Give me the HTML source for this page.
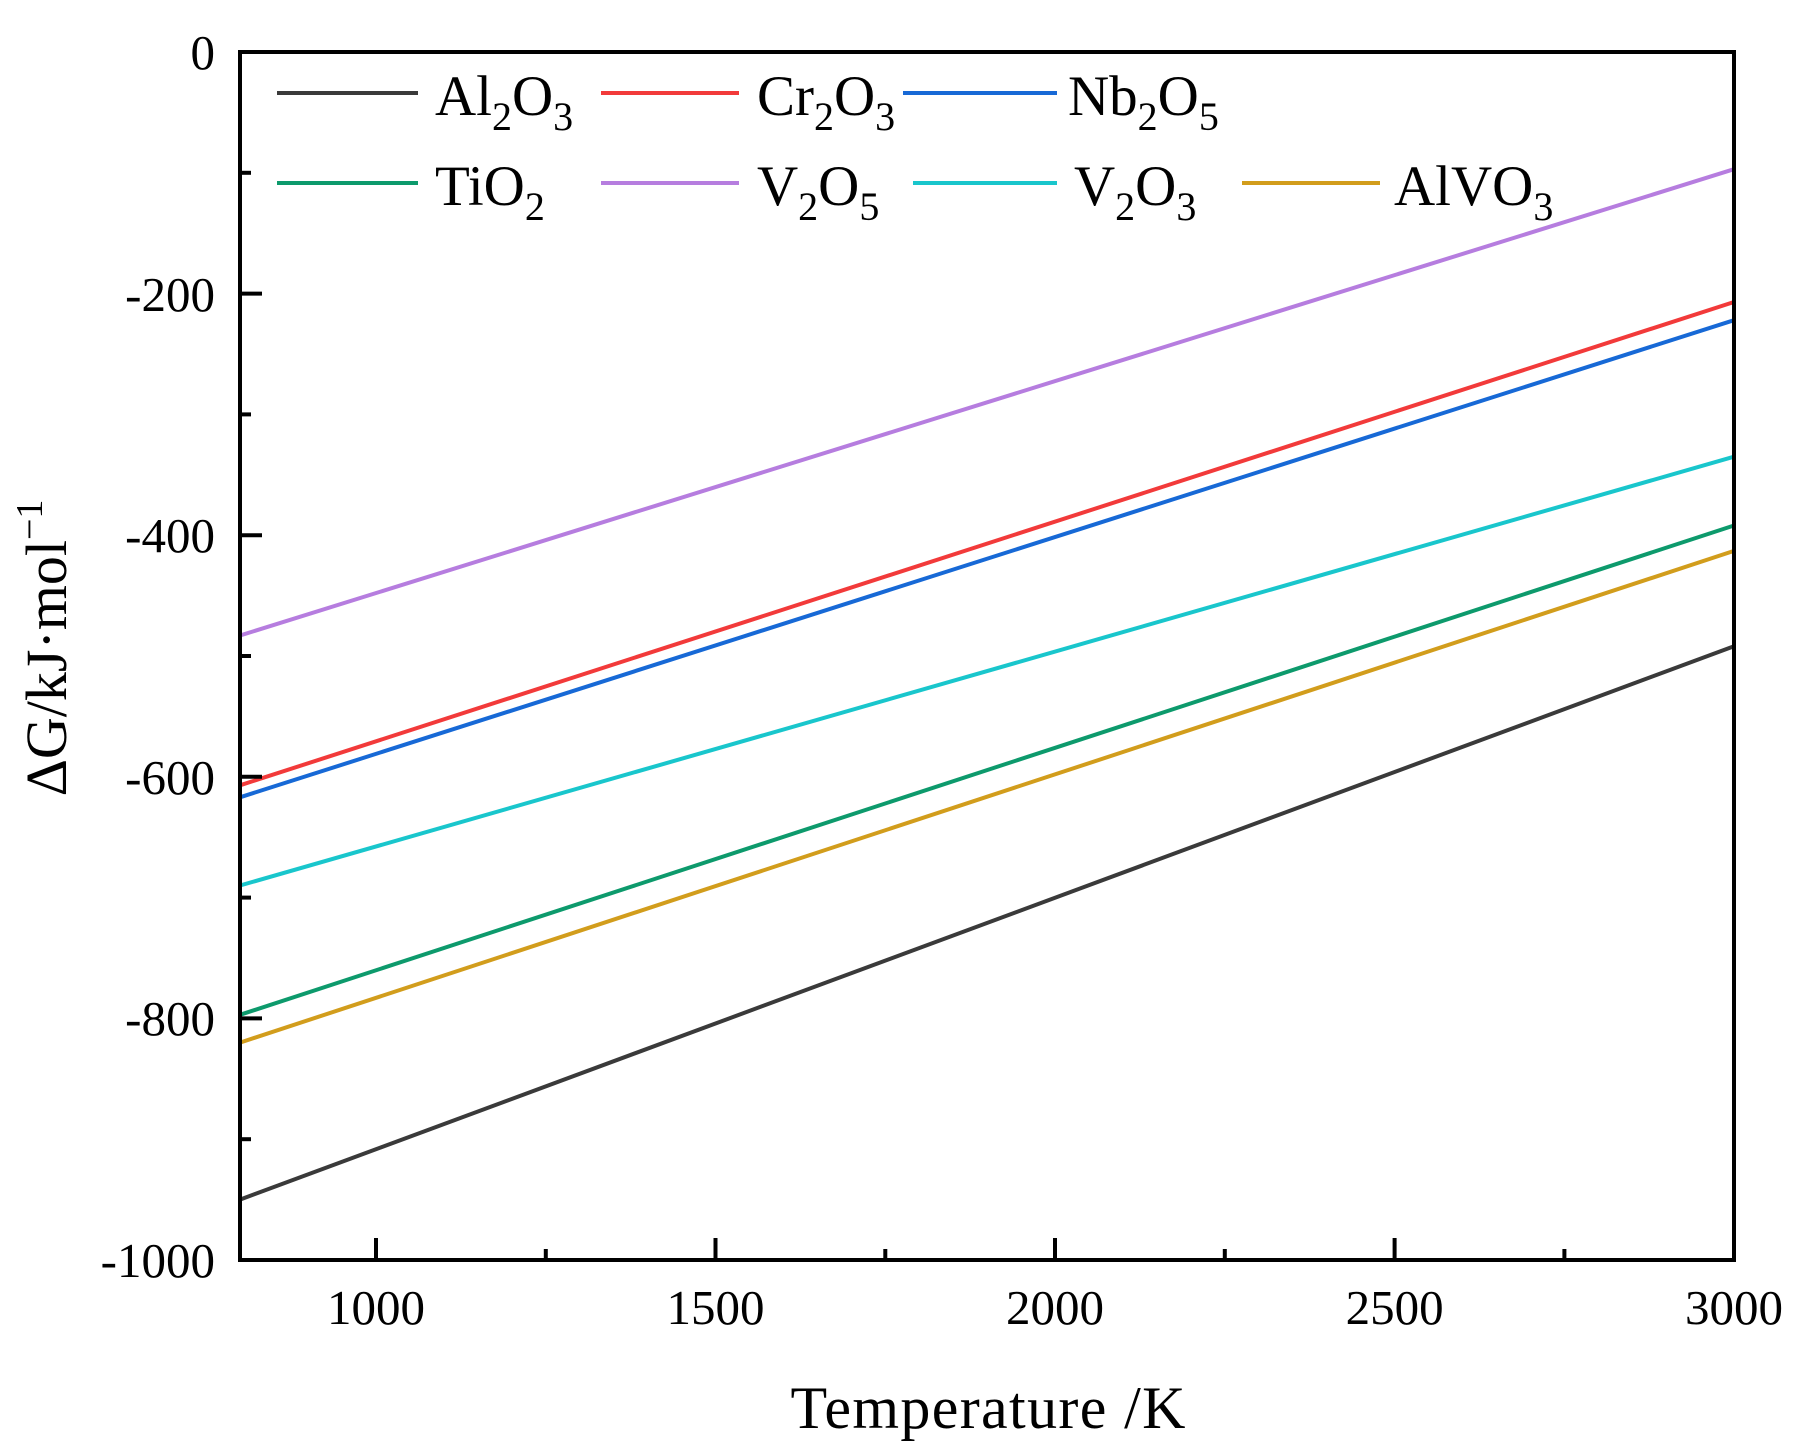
<!DOCTYPE html>
<html><head><meta charset="utf-8"><style>html,body{margin:0;padding:0;background:#fff}svg{display:block}</style></head>
<body>
<svg width="1811" height="1455" viewBox="0 0 1811 1455" xmlns="http://www.w3.org/2000/svg" font-family="Liberation Serif, serif">
<rect width="1811" height="1455" fill="#fff"/>
<g stroke-width="4" fill="none">
<line x1="240" y1="1199.6" x2="1734" y2="646.3" stroke="#3a3a3a"/>
<line x1="240" y1="785.3" x2="1734" y2="302" stroke="#f23a3a"/>
<line x1="240" y1="797.3" x2="1734" y2="320.2" stroke="#1769d6"/>
<line x1="240" y1="1014.8" x2="1734" y2="525.5" stroke="#0d9a6c"/>
<line x1="240" y1="635.5" x2="1734" y2="169.2" stroke="#b67ddf"/>
<line x1="240" y1="885.5" x2="1734" y2="456.7" stroke="#19c6cc"/>
<line x1="240" y1="1042.6" x2="1734" y2="550.9" stroke="#d29d1c"/>
</g>
<rect x="240" y="52" width="1494" height="1208" fill="none" stroke="#000" stroke-width="4"/>
<g stroke="#000" stroke-width="4">
<line x1="376" y1="1260" x2="376" y2="1238"/><line x1="715.5" y1="1260" x2="715.5" y2="1238"/><line x1="1055" y1="1260" x2="1055" y2="1238"/><line x1="1394.6" y1="1260" x2="1394.6" y2="1238"/>
<line x1="545.8" y1="1260" x2="545.8" y2="1249"/><line x1="885.3" y1="1260" x2="885.3" y2="1249"/><line x1="1224.8" y1="1260" x2="1224.8" y2="1249"/><line x1="1564.4" y1="1260" x2="1564.4" y2="1249"/>
<line x1="240" y1="293.6" x2="262" y2="293.6"/><line x1="240" y1="535.2" x2="262" y2="535.2"/><line x1="240" y1="776.8" x2="262" y2="776.8"/><line x1="240" y1="1018.4" x2="262" y2="1018.4"/>
<line x1="240" y1="172.8" x2="251" y2="172.8"/><line x1="240" y1="414.4" x2="251" y2="414.4"/><line x1="240" y1="656" x2="251" y2="656"/><line x1="240" y1="897.6" x2="251" y2="897.6"/><line x1="240" y1="1139.2" x2="251" y2="1139.2"/>
</g>
<g font-size="49" fill="#000" text-anchor="middle">
<text x="376" y="1324">1000</text><text x="715.5" y="1324">1500</text><text x="1055" y="1324">2000</text><text x="1394.6" y="1324">2500</text><text x="1734" y="1324">3000</text>
</g>
<g font-size="49" fill="#000" text-anchor="end">
<text x="215" y="69">0</text><text x="215" y="311">-200</text><text x="215" y="552">-400</text><text x="215" y="794">-600</text><text x="215" y="1035">-800</text><text x="215" y="1277">-1000</text>
</g>
<text x="988" y="1428" font-size="60" text-anchor="middle" textLength="395">Temperature /K</text>
<text transform="translate(66,648) rotate(-90)" font-size="58" text-anchor="middle">ΔG/kJ·mol<tspan dy="-24" font-size="38">−1</tspan></text>
<g stroke-width="4">
<line x1="277" y1="93" x2="418" y2="93" stroke="#3a3a3a"/>
<line x1="601" y1="93" x2="739" y2="93" stroke="#f23a3a"/>
<line x1="903" y1="93" x2="1057" y2="93" stroke="#1769d6"/>
<line x1="277" y1="183" x2="418" y2="183" stroke="#0d9a6c"/>
<line x1="601" y1="183" x2="739" y2="183" stroke="#b67ddf"/>
<line x1="913" y1="183" x2="1057" y2="183" stroke="#19c6cc"/>
<line x1="1242" y1="183" x2="1380" y2="183" stroke="#d29d1c"/>
</g>
<g font-size="57" fill="#000">
<text x="435" y="115">Al<tspan font-size="40" dy="15">2</tspan><tspan dy="-15">O</tspan><tspan font-size="40" dy="15">3</tspan></text>
<text x="757" y="115">Cr<tspan font-size="40" dy="15">2</tspan><tspan dy="-15">O</tspan><tspan font-size="40" dy="15">3</tspan></text>
<text x="1068" y="115">Nb<tspan font-size="40" dy="15">2</tspan><tspan dy="-15">O</tspan><tspan font-size="40" dy="15">5</tspan></text>
<text x="435" y="205">TiO<tspan font-size="40" dy="15">2</tspan></text>
<text x="757" y="205">V<tspan font-size="40" dy="15">2</tspan><tspan dy="-15">O</tspan><tspan font-size="40" dy="15">5</tspan></text>
<text x="1074" y="205">V<tspan font-size="40" dy="15">2</tspan><tspan dy="-15">O</tspan><tspan font-size="40" dy="15">3</tspan></text>
<text x="1394" y="205">AlVO<tspan font-size="40" dy="15">3</tspan></text>
</g>
</svg>
</body></html>
